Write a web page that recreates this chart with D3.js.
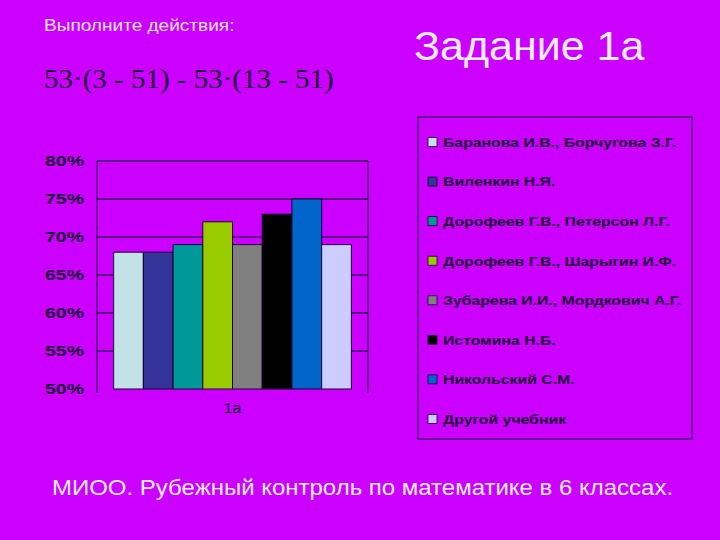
<!DOCTYPE html>
<html lang="ru">
	<head>
		<meta charset="UTF-8" />
		<title>Задание 1а</title>
		<script src="https://d3js.org/d3.v7.min.js"></script>
		<style>
			body { margin: 0; background: #cc00ff; }
			svg { display: block; }
		</style>
	</head>
	<body>
		<svg width="720" height="540"></svg>

		<script>
			// textbooks (series) and their results for task 1a
			const textbooks = [
				'Баранова И.В., Борчугова З.Г.',
				'Виленкин Н.Я.',
				'Дорофеев Г.В., Петерсон Л.Г.',
				'Дорофеев Г.В., Шарыгин И.Ф.',
				'Зубарева И.И., Мордкович А.Г.',
				'Истомина Н.Б.',
				'Никольский С.М.',
				'Другой учебник'
			];
			const results = [0.68, 0.68, 0.69, 0.72, 0.69, 0.73, 0.75, 0.69];
			const barColors = ['#c2e2e8', '#333399', '#009999', '#99cc00', '#808080', '#000000', '#0066cc', '#ccccff'];
			const categories = ['1a'];
			const yTicks = [0.5, 0.55, 0.6, 0.65, 0.7, 0.75, 0.8];

			const svg = d3.select('svg');
			const lineColor = '#3a0a5e';
			const textDark = '#1a0033';
			const sans = 'Arial, "Liberation Sans", sans-serif';

			// the slide's text is a bit wider than the fonts here, stretch it
			function stretch(sel, k) {
				sel.each(function () {
					const w = this.getComputedTextLength();
					d3.select(this).attr('textLength', w * k).attr('lengthAdjust', 'spacingAndGlyphs');
				});
			}

			// headings
			svg.append('text')
				.attr('x', 44).attr('y', 31)
				.style('font-family', sans)
				.style('font-size', '17px')
				.style('fill', '#f4e6ff')
				.text('Выполните действия:')
				.call(stretch, 1.12);

			svg.append('text')
				.attr('x', 44).attr('y', 88)
				.style('font-family', '"Times New Roman", "Liberation Serif", serif')
				.style('font-size', '28px')
				.style('fill', textDark)
				.text('53·(3 - 51) - 53·(13 - 51)')
				.call(stretch, 1.035);

			svg.append('text')
				.attr('x', 414).attr('y', 60)
				.style('font-family', sans)
				.style('font-size', '40px')
				.style('fill', '#f8eeff')
				.text('Задание 1а')
				.call(stretch, 1.075);

			svg.append('text')
				.attr('x', 52).attr('y', 495)
				.style('font-family', sans)
				.style('font-size', '22px')
				.style('fill', '#f8eeff')
				.text('МИОО. Рубежный контроль по математике в 6 классах.')
				.call(stretch, 1.09);

			// chart area
			const plot = { left: 97, right: 368, top: 161, bottom: 389 };

			const y = d3.scaleLinear()
				.domain([0.5, 0.8])
				.range([plot.bottom, plot.top]);

			const x0 = d3.scaleBand()
				.domain(categories)
				.range([plot.left, plot.right])
				.paddingInner(0)
				.paddingOuter(0.07);

			const x1 = d3.scaleBand()
				.domain(textbooks)
				.range([0, x0.bandwidth()]);

			// gridlines
			svg.append('g')
				.selectAll('line')
				.data(yTicks.filter(d => d > 0.5))
				.join('line')
				.attr('x1', plot.left)
				.attr('x2', plot.right)
				.attr('y1', d => y(d))
				.attr('y2', d => y(d))
				.style('stroke', lineColor)
				.style('stroke-width', 1.3);

			svg.append('line')
				.attr('x1', plot.right).attr('x2', plot.right)
				.attr('y1', plot.top).attr('y2', plot.bottom + 4)
				.style('stroke', lineColor)
				.style('stroke-width', 1.3);

			// bars
			svg.append('g')
				.selectAll('g')
				.data(categories)
				.join('g')
				.attr('transform', d => `translate(${x0(d)},0)`)
				.selectAll('rect')
				.data(() => textbooks.map((t, i) => ({ t, v: results[i], c: barColors[i] })))
				.join('rect')
				.attr('x', d => x1(d.t))
				.attr('width', x1.bandwidth())
				.attr('y', d => y(d.v))
				.attr('height', d => y(0.5) - y(d.v))
				.style('fill', d => d.c)
				.style('stroke', '#1a0030')
				.style('stroke-width', 1);

			// y axis
			const yAxis = d3.axisLeft(y)
				.tickValues(yTicks)
				.tickFormat(d3.format('.0%'))
				.tickSize(0)
				.tickPadding(13);

			const yAxisG = svg.append('g')
				.attr('transform', `translate(${plot.left},0)`)
				.call(yAxis);
			yAxisG.select('.domain').remove();
			yAxisG.selectAll('text')
				.style('font-family', sans)
				.style('font-weight', 'bold')
				.style('font-size', '15px')
				.style('fill', textDark)
				.call(stretch, 1.3);

			svg.append('line')
				.attr('x1', plot.left).attr('x2', plot.left)
				.attr('y1', plot.top).attr('y2', plot.bottom + 4)
				.style('stroke', lineColor)
				.style('stroke-width', 1.3);

			// x axis label
			const xAxisG = svg.append('g')
				.attr('transform', `translate(0,${plot.bottom})`)
				.call(d3.axisBottom(x0).tickSize(0).tickPadding(14));
			xAxisG.select('.domain').remove();
			xAxisG.selectAll('text')
				.style('font-family', sans)
				.style('font-size', '14px')
				.style('fill', textDark)
				.call(stretch, 1.15);

			// legend
			const legend = { left: 418, top: 117, right: 692, bottom: 439 };
			svg.append('rect')
				.attr('x', legend.left)
				.attr('y', legend.top)
				.attr('width', legend.right - legend.left)
				.attr('height', legend.bottom - legend.top)
				.style('fill', 'none')
				.style('stroke', lineColor)
				.style('stroke-width', 1.3);

			const rowY = d3.scalePoint()
				.domain(textbooks)
				.range([142, 419]);

			const item = svg.append('g')
				.selectAll('g')
				.data(textbooks)
				.join('g')
				.attr('transform', d => `translate(0,${rowY(d)})`);

			item.append('rect')
				.attr('x', 428)
				.attr('y', -4.5)
				.attr('width', 9)
				.attr('height', 9)
				.style('fill', (d, i) => barColors[i])
				.style('stroke', '#1a0030')
				.style('stroke-width', 0.8);

			item.append('text')
				.attr('x', 443)
				.attr('dy', '0.36em')
				.style('font-family', sans)
				.style('font-weight', 'bold')
				.style('font-size', '13.5px')
				.style('fill', textDark)
				.text(d => d)
				.call(stretch, 1.17);
		</script>
	</body>
</html>
